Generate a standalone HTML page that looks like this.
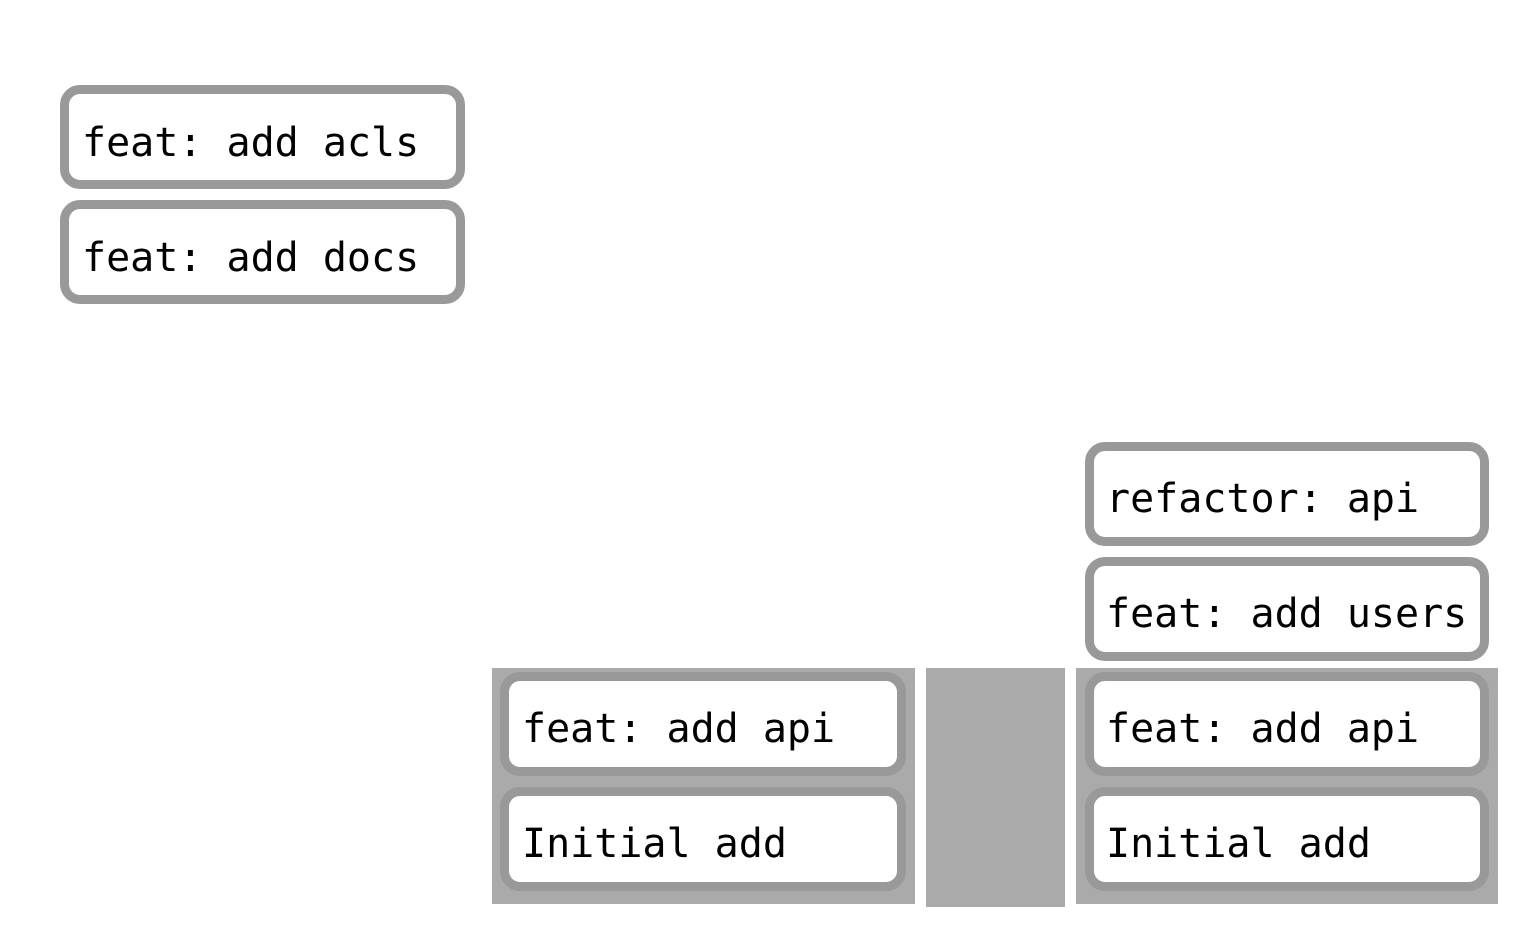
<!DOCTYPE html>
<html><head><meta charset="utf-8"><style>
html,body{margin:0;padding:0;background:#fff;width:1538px;height:950px;overflow:hidden;position:relative}
.bg{position:absolute;background:#aaa}
.b{position:absolute;box-sizing:border-box;border:9px solid #999;border-radius:20px;background:#fff}
.t{position:absolute;font-family:"DejaVu Sans Mono","Liberation Mono",monospace;font-size:40px;line-height:40px;color:#000;white-space:pre}
</style></head><body>
<div class="bg" style="left:492px;top:668px;width:423px;height:236px"></div>
<div class="bg" style="left:926px;top:668px;width:139px;height:239px"></div>
<div class="bg" style="left:1076px;top:668px;width:422px;height:236px"></div>

<div class="b" style="left:60px;top:85px;width:405px;height:104px"></div>
<div class="b" style="left:60px;top:200px;width:405px;height:104px"></div>
<div class="b" style="left:500px;top:672px;width:406px;height:104px"></div>
<div class="b" style="left:500px;top:787px;width:406px;height:104px"></div>
<div class="b" style="left:1085px;top:442px;width:404px;height:104px"></div>
<div class="b" style="left:1085px;top:557px;width:404px;height:104px"></div>
<div class="b" style="left:1085px;top:672px;width:404px;height:104px"></div>
<div class="b" style="left:1085px;top:787px;width:404px;height:104px"></div>

<div class="t" style="left:82px;top:123px">feat: add acls</div>
<div class="t" style="left:82px;top:238px">feat: add docs</div>
<div class="t" style="left:522px;top:709px">feat: add api</div>
<div class="t" style="left:522px;top:824px">Initial add</div>
<div class="t" style="left:1106px;top:479px">refactor: api</div>
<div class="t" style="left:1106px;top:594px">feat: add users</div>
<div class="t" style="left:1106px;top:709px">feat: add api</div>
<div class="t" style="left:1106px;top:824px">Initial add</div>
</body></html>
